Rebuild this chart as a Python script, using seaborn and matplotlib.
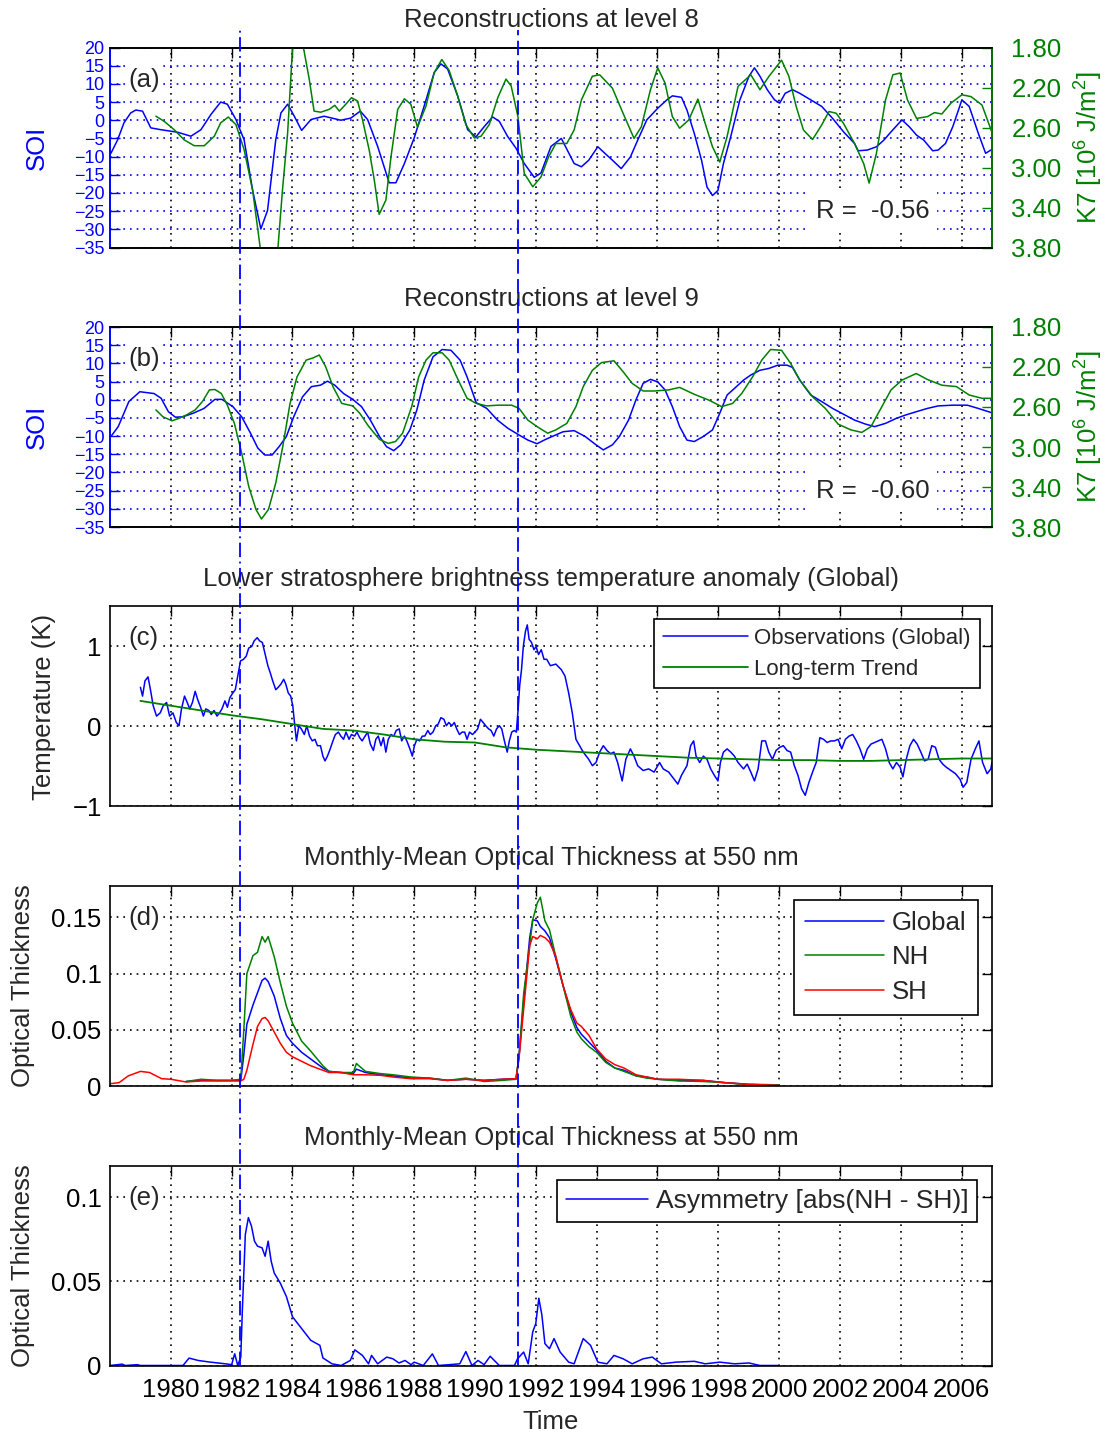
import numpy as np
import matplotlib
matplotlib.use("Agg")
import matplotlib.pyplot as plt
import matplotlib.transforms as mtransforms
from matplotlib.lines import Line2D
from matplotlib.ticker import FormatStrFormatter
import seaborn as sns

# ---------------------------------------------------------------- data
x_ticks = list(range(1980, 2007, 2))
eruption_years = [1982.26, 1991.40]          # El Chichon, Pinatubo
eruption_styles = [(0, (8, 2.5, 1, 2.5)), (0, (8, 3))]

# (a) level-8 reconstructions
soi8_years = [1978.03, 1978.25, 1978.46, 1978.68, 1978.85, 1979.07, 1979.34, 1979.67, 1980.22, 1980.66,
              1980.99, 1981.32, 1981.64, 1981.86, 1982.14, 1982.41, 1982.69, 1982.96, 1983.18, 1983.45,
              1983.62, 1983.84, 1984.06, 1984.30, 1984.61, 1985.04, 1985.59, 1985.92, 1986.23, 1986.47,
              1986.80, 1987.18, 1987.40, 1987.68, 1988.00, 1988.33, 1988.66, 1988.88, 1989.10, 1989.43,
              1989.76, 1990.03, 1990.31, 1990.58, 1990.80, 1991.07, 1991.35, 1991.62, 1991.95, 1992.17,
              1992.50, 1992.84, 1993.26, 1993.50, 1993.74, 1994.04, 1994.22, 1994.52, 1994.81, 1995.11,
              1995.35, 1995.65, 1996.01, 1996.31, 1996.49, 1996.79, 1996.97, 1997.21, 1997.45, 1997.63,
              1997.81, 1997.99, 1998.17, 1998.41, 1998.71, 1999.01, 1999.19, 1999.37, 1999.61, 1999.85,
              2000.02, 2000.20, 2000.44, 2000.68, 2001.04, 2001.40, 2001.76, 2002.12, 2002.48, 2002.60,
              2002.90, 2003.20, 2003.44, 2003.68, 2004.04, 2004.28, 2004.52, 2004.76, 2005.05, 2005.23,
              2005.47, 2005.71, 2006.01, 2006.25, 2006.55, 2006.79, 2007.00]
soi8 = [-9.1, -5.4, -0.7, 2.0, 2.8, 2.5, -2.1, -2.6, -3.3, -4.4,
        -2.6, 1.6, 5.0, 4.4, 0.2, -5.4, -19.3, -29.9, -24.8, -5.4,
        2.0, 4.4, 1.1, -2.8, 0.2, 1.1, 0.0, 0.6, 2.5, 0.2,
        -7.2, -17.2, -17.2, -11.9, -4.9, 3.9, 13.1, 15.5, 14.1, 6.7,
        -2.6, -4.6, -1.7, 0.9, -0.3, -4.4, -7.7, -11.9, -15.7, -14.5,
        -7.2, -5.0, -11.9, -12.8, -11.0, -7.3, -8.7, -11.0, -13.3, -10.1,
        -5.5, 0.1, 3.3, 5.6, 6.7, 6.3, 2.8, -3.6, -11.0, -18.4,
        -20.7, -19.3, -11.9, -4.5, 5.6, 12.1, 14.4, 12.1, 8.4, 5.6,
        4.7, 7.4, 8.4, 7.4, 5.6, 3.8, 0.5, -3.2, -6.4, -8.4,
        -8.2, -7.3, -5.5, -3.2, 0.1, -1.8, -4.1, -5.5, -8.4, -8.2,
        -6.4, -1.8, 5.6, 3.8, -3.6, -9.1, -8.0]

k7_8_years = [1979.51, 1979.78, 1980.11, 1980.44, 1980.77, 1981.10, 1981.43, 1981.64, 1981.89, 1982.14,
              1982.41, 1982.69, 1982.96, 1983.20, 1983.51, 1983.67, 1983.84, 1984.00, 1984.18, 1984.36,
              1984.55, 1984.71, 1984.93, 1985.21, 1985.39, 1985.54, 1985.70, 1985.94, 1986.14, 1986.30,
              1986.52, 1986.69, 1986.85, 1987.07, 1987.24, 1987.46, 1987.68, 1987.89, 1988.11, 1988.39,
              1988.66, 1988.91, 1989.15, 1989.43, 1989.70, 1989.98, 1990.20, 1990.47, 1990.75, 1991.02,
              1991.19, 1991.41, 1991.62, 1991.90, 1992.17, 1992.42, 1992.66, 1993.02, 1993.26, 1993.50,
              1993.86, 1994.10, 1994.52, 1994.87, 1995.23, 1995.47, 1995.77, 1996.01, 1996.25, 1996.49,
              1996.73, 1997.03, 1997.33, 1997.57, 1997.81, 1998.05, 1998.29, 1998.65, 1999.07, 1999.37,
              1999.67, 2000.08, 2000.32, 2000.56, 2000.80, 2001.10, 2001.40, 2001.64, 2001.88, 2002.12,
              2002.48, 2002.78, 2002.96, 2003.20, 2003.50, 2003.74, 2003.98, 2004.22, 2004.52, 2004.88,
              2005.11, 2005.35, 2005.65, 2006.01, 2006.31, 2006.67, 2007.00]
k7_8 = [2.487, 2.538, 2.622, 2.724, 2.782, 2.782, 2.687, 2.553, 2.495, 2.571,
        2.822, 3.229, 3.850, 4.100, 3.850, 3.229, 2.655, 1.815, 1.700, 1.800,
        2.116, 2.436, 2.447, 2.418, 2.378, 2.436, 2.385, 2.302, 2.335, 2.520,
        2.822, 3.127, 3.469, 3.327, 2.891, 2.418, 2.313, 2.367, 2.596, 2.385,
        2.051, 1.920, 2.029, 2.284, 2.571, 2.705, 2.687, 2.571, 2.302, 2.116,
        2.185, 2.487, 3.058, 3.193, 3.095, 2.894, 2.760, 2.760, 2.625, 2.324,
        2.087, 2.073, 2.207, 2.458, 2.709, 2.593, 2.222, 2.004, 2.156, 2.491,
        2.607, 2.524, 2.316, 2.560, 2.793, 2.945, 2.691, 2.189, 2.073, 2.222,
        2.087, 1.927, 2.087, 2.389, 2.625, 2.720, 2.575, 2.440, 2.458, 2.560,
        2.760, 2.960, 3.156, 2.858, 2.324, 2.073, 2.055, 2.324, 2.509, 2.491,
        2.451, 2.465, 2.356, 2.273, 2.291, 2.375, 2.650]

# (b) level-9 reconstructions
soi9_years = [1978.04, 1978.27, 1978.62, 1978.98, 1979.45, 1979.68, 1979.92, 1980.15, 1980.39, 1980.74,
              1981.09, 1981.45, 1981.68, 1982.04, 1982.33, 1982.62, 1982.86, 1983.09, 1983.33, 1983.56,
              1983.80, 1984.04, 1984.33, 1984.62, 1984.92, 1985.15, 1985.39, 1985.68, 1985.98, 1986.27,
              1986.56, 1986.86, 1987.09, 1987.33, 1987.56, 1987.86, 1988.09, 1988.33, 1988.62, 1988.92,
              1989.21, 1989.51, 1989.74, 1990.04, 1990.39, 1990.74, 1991.09, 1991.45, 1991.74, 1992.04,
              1992.30, 1992.54, 1992.90, 1993.26, 1993.62, 1993.98, 1994.22, 1994.52, 1994.75, 1995.05,
              1995.29, 1995.53, 1995.77, 1996.01, 1996.25, 1996.49, 1996.73, 1996.97, 1997.21, 1997.51,
              1997.81, 1998.05, 1998.29, 1998.53, 1998.83, 1999.07, 1999.37, 1999.66, 1999.96, 2000.26,
              2000.44, 2000.68, 2001.04, 2001.40, 2001.76, 2002.12, 2002.48, 2002.84, 2003.14, 2003.50,
              2003.86, 2004.16, 2004.51, 2004.87, 2005.23, 2005.71, 2006.19, 2006.55, 2007.00]
soi9 = [-10.0, -7.4, -0.5, 2.2, 1.7, 0.4, -3.3, -4.8, -4.7, -3.7,
        -2.4, 0.1, 0.1, -1.9, -4.7, -9.2, -13.3, -15.2, -15.2, -12.9,
        -10.1, -4.7, 0.8, 3.6, 4.0, 5.1, 4.0, 1.7, 0.1, -1.9,
        -5.6, -10.1, -12.9, -14.0, -12.4, -8.3, -2.8, 5.4, 11.8, 13.8,
        13.6, 10.9, 6.3, -0.8, -2.4, -5.6, -7.9, -9.7, -11.1, -12.1,
        -11.0, -10.1, -8.8, -8.5, -10.1, -12.4, -13.8, -12.4, -10.1, -5.6,
        -0.1, 4.5, 5.6, 4.9, 2.7, -1.9, -7.4, -11.1, -11.5, -10.1,
        -8.3, -3.7, 1.3, 3.1, 5.4, 6.8, 8.1, 8.6, 9.5, 9.5,
        8.9, 5.4, 1.3, -0.5, -2.4, -4.0, -5.6, -6.7, -7.4, -6.5,
        -5.1, -4.2, -3.3, -2.4, -1.7, -1.5, -1.5, -2.4, -3.6]

k7_9_years = [1979.51, 1979.74, 1980.04, 1980.27, 1980.51, 1980.80, 1981.04, 1981.27, 1981.45, 1981.66,
              1981.86, 1982.09, 1982.33, 1982.56, 1982.80, 1982.98, 1983.21, 1983.45, 1983.68, 1983.92,
              1984.15, 1984.45, 1984.68, 1984.88, 1985.09, 1985.33, 1985.62, 1985.98, 1986.21, 1986.51,
              1986.86, 1987.15, 1987.39, 1987.62, 1987.92, 1988.15, 1988.39, 1988.62, 1988.92, 1989.15,
              1989.45, 1989.74, 1990.04, 1990.39, 1990.74, 1991.21, 1991.45, 1991.74, 1992.04, 1992.39,
              1992.66, 1993.02, 1993.32, 1993.56, 1993.86, 1994.16, 1994.57, 1994.87, 1995.17, 1995.53,
              1995.89, 1996.37, 1996.73, 1997.21, 1997.69, 1998.11, 1998.47, 1998.77, 1999.13, 1999.43,
              1999.72, 2000.08, 2000.38, 2000.68, 2001.10, 2001.52, 2001.94, 2002.36, 2002.72, 2003.02,
              2003.32, 2003.68, 2004.04, 2004.51, 2004.87, 2005.35, 2005.83, 2006.25, 2006.67, 2007.00]
k7_9 = [2.629, 2.698, 2.738, 2.713, 2.680, 2.629, 2.545, 2.429, 2.425, 2.465,
        2.582, 2.764, 3.062, 3.393, 3.625, 3.720, 3.625, 3.360, 2.996, 2.564,
        2.298, 2.131, 2.109, 2.080, 2.196, 2.396, 2.564, 2.589, 2.662, 2.796,
        2.924, 2.964, 2.945, 2.862, 2.596, 2.298, 2.131, 2.058, 2.058, 2.131,
        2.331, 2.513, 2.564, 2.589, 2.582, 2.582, 2.614, 2.731, 2.796, 2.862,
        2.829, 2.764, 2.596, 2.396, 2.233, 2.156, 2.138, 2.247, 2.364, 2.440,
        2.440, 2.429, 2.404, 2.473, 2.531, 2.596, 2.564, 2.465, 2.298, 2.131,
        2.025, 2.033, 2.164, 2.331, 2.498, 2.614, 2.771, 2.829, 2.854, 2.796,
        2.629, 2.429, 2.331, 2.265, 2.324, 2.382, 2.396, 2.480, 2.513, 2.513]

# (c) lower stratosphere brightness temperature anomaly (K)
tls_years = [1979.00, 1979.07, 1979.15, 1979.25, 1979.33, 1979.42, 1979.53, 1979.65, 1979.75, 1979.86,
             1979.96, 1980.07, 1980.18, 1980.27, 1980.35, 1980.45, 1980.54, 1980.62, 1980.71, 1980.80,
             1980.88, 1980.98, 1981.07, 1981.15, 1981.25, 1981.33, 1981.42, 1981.52, 1981.60, 1981.68,
             1981.78, 1981.86, 1981.94, 1982.04, 1982.12, 1982.21, 1982.29, 1982.39, 1982.48, 1982.56,
             1982.66, 1982.74, 1982.84, 1982.92, 1983.01, 1983.09, 1983.19, 1983.27, 1983.35, 1983.45,
             1983.53, 1983.62, 1983.71, 1983.78, 1983.86, 1983.94, 1984.01, 1984.07, 1984.13, 1984.21,
             1984.29, 1984.39, 1984.47, 1984.56, 1984.65, 1984.74, 1984.82, 1984.92, 1985.00, 1985.07,
             1985.15, 1985.24, 1985.33, 1985.41, 1985.51, 1985.59, 1985.68, 1985.76, 1985.86, 1985.94,
             1986.04, 1986.12, 1986.21, 1986.29, 1986.39, 1986.47, 1986.56, 1986.66, 1986.74, 1986.82,
             1986.91, 1986.99, 1987.07, 1987.15, 1987.24, 1987.33, 1987.41, 1987.51, 1987.59, 1987.68,
             1987.76, 1987.86, 1987.94, 1988.01, 1988.09, 1988.18, 1988.27, 1988.35, 1988.45, 1988.53,
             1988.62, 1988.71, 1988.79, 1988.88, 1988.98, 1989.06, 1989.14, 1989.24, 1989.32, 1989.40,
             1989.49, 1989.58, 1989.66, 1989.74, 1989.82, 1989.92, 1990.00, 1990.09, 1990.18, 1990.27,
             1990.35, 1990.45, 1990.53, 1990.62, 1990.71, 1990.80, 1990.88, 1990.98, 1991.06, 1991.13,
             1991.21, 1991.29, 1991.36, 1991.42, 1991.47, 1991.53, 1991.59, 1991.66, 1991.72, 1991.78,
             1991.86, 1991.94, 1992.01, 1992.09, 1992.18, 1992.27, 1992.36, 1992.48, 1992.66, 1992.84,
             1992.96, 1993.08, 1993.20, 1993.32, 1993.44, 1993.56, 1993.74, 1993.86, 1993.98, 1994.10,
             1994.22, 1994.34, 1994.46, 1994.57, 1994.69, 1994.84, 1994.96, 1995.11, 1995.23, 1995.35,
             1995.53, 1995.71, 1995.89, 1996.07, 1996.19, 1996.37, 1996.55, 1996.67, 1996.79, 1996.97,
             1997.09, 1997.19, 1997.27, 1997.39, 1997.51, 1997.63, 1997.75, 1997.87, 1997.99, 1998.07,
             1998.17, 1998.29, 1998.41, 1998.53, 1998.65, 1998.83, 1998.95, 1999.07, 1999.19, 1999.31,
             1999.43, 1999.55, 1999.66, 1999.78, 1999.90, 2000.02, 2000.14, 2000.26, 2000.38, 2000.50,
             2000.62, 2000.74, 2000.86, 2000.98, 2001.10, 2001.22, 2001.34, 2001.46, 2001.58, 2001.70,
             2001.82, 2001.94, 2002.06, 2002.18, 2002.30, 2002.42, 2002.54, 2002.66, 2002.78, 2002.90,
             2003.02, 2003.14, 2003.26, 2003.38, 2003.50, 2003.62, 2003.74, 2003.86, 2003.98, 2004.07,
             2004.18, 2004.30, 2004.42, 2004.54, 2004.66, 2004.78, 2004.90, 2005.02, 2005.14, 2005.26,
             2005.38, 2005.50, 2005.65, 2005.80, 2005.95, 2006.05, 2006.17, 2006.31, 2006.45, 2006.57,
             2006.69, 2006.84, 2006.96, 2007.00]
tls_obs = [0.49, 0.38, 0.57, 0.62, 0.46, 0.26, 0.13, 0.17, 0.26, 0.30,
           0.13, 0.17, 0.05, 0.01, 0.22, 0.38, 0.30, 0.22, 0.30, 0.44,
           0.34, 0.24, 0.13, 0.22, 0.20, 0.15, 0.20, 0.13, 0.17, 0.22,
           0.32, 0.24, 0.36, 0.42, 0.46, 0.65, 0.82, 0.84, 0.88, 0.98,
           1.00, 1.07, 1.11, 1.07, 1.05, 0.92, 0.76, 0.67, 0.57, 0.46,
           0.49, 0.53, 0.59, 0.53, 0.42, 0.38, 0.26, 0.03, -0.18, 0.01,
           -0.03, -0.10, 0.01, -0.12, -0.18, -0.16, -0.24, -0.24, -0.37, -0.43,
           -0.37, -0.28, -0.18, -0.10, -0.07, -0.12, -0.16, -0.07, -0.16, -0.10,
           -0.12, -0.07, -0.14, -0.18, -0.12, -0.07, -0.22, -0.30, -0.16, -0.12,
           -0.24, -0.14, -0.32, -0.16, -0.10, -0.12, -0.05, -0.03, -0.18, -0.12,
           -0.18, -0.28, -0.37, -0.24, -0.16, -0.18, -0.12, -0.12, -0.05, -0.10,
           -0.07, 0.01, 0.03, 0.11, 0.09, 0.01, 0.05, 0.01, 0.05, -0.03,
           -0.10, -0.07, -0.07, -0.16, -0.07, -0.10, -0.07, -0.03, 0.09, 0.05,
           0.01, -0.03, -0.05, -0.12, -0.03, 0.01, -0.03, -0.20, -0.32, -0.18,
           -0.07, -0.05, -0.07, 0.22, 0.51, 0.71, 1.00, 1.19, 1.27, 1.09,
           1.05, 0.96, 1.00, 0.90, 0.96, 0.84, 0.84, 0.76, 0.78, 0.71,
           0.63, 0.42, 0.17, -0.16, -0.24, -0.32, -0.41, -0.49, -0.45, -0.32,
           -0.24, -0.30, -0.34, -0.32, -0.45, -0.68, -0.41, -0.28, -0.37, -0.49,
           -0.55, -0.53, -0.57, -0.45, -0.53, -0.57, -0.66, -0.72, -0.61, -0.49,
           -0.24, -0.18, -0.37, -0.45, -0.37, -0.41, -0.53, -0.61, -0.68, -0.45,
           -0.32, -0.28, -0.32, -0.37, -0.45, -0.53, -0.47, -0.57, -0.68, -0.53,
           -0.18, -0.18, -0.32, -0.41, -0.30, -0.26, -0.24, -0.30, -0.32, -0.49,
           -0.61, -0.78, -0.86, -0.70, -0.57, -0.45, -0.14, -0.16, -0.20, -0.18,
           -0.18, -0.16, -0.28, -0.16, -0.12, -0.10, -0.18, -0.28, -0.41, -0.28,
           -0.22, -0.20, -0.18, -0.16, -0.28, -0.45, -0.53, -0.45, -0.51, -0.63,
           -0.41, -0.24, -0.16, -0.22, -0.32, -0.43, -0.41, -0.24, -0.26, -0.41,
           -0.47, -0.51, -0.55, -0.59, -0.66, -0.76, -0.70, -0.41, -0.28, -0.18,
           -0.45, -0.59, -0.53, -0.45]

trend_years = list(range(1979, 2008))
tls_trend = [0.32, 0.26, 0.20, 0.14, 0.09, 0.03, -0.03, -0.05, -0.10, -0.16,
             -0.19, -0.20, -0.26, -0.29, -0.31, -0.33, -0.35, -0.37, -0.39, -0.40,
             -0.41, -0.42, -0.42, -0.43, -0.43, -0.42, -0.41, -0.40, -0.40]

# (d) monthly-mean optical thickness at 550 nm
aod_years = [1978.0, 1978.3, 1978.6, 1979.0, 1979.3, 1979.7, 1980.0, 1980.5, 1981.0, 1981.5,
             1982.0, 1982.3, 1982.4, 1982.5, 1982.7, 1982.85, 1983.0, 1983.1, 1983.2, 1983.4,
             1983.6, 1983.8, 1984.0, 1984.3, 1984.6, 1985.0, 1985.2, 1985.6, 1986.0, 1986.1,
             1986.4, 1986.9, 1987.3, 1987.9, 1988.5, 1989.1, 1989.7, 1990.3, 1990.9, 1991.35,
             1991.45, 1991.6, 1991.8, 1991.9, 1992.05, 1992.15, 1992.3, 1992.45, 1992.65, 1992.9,
             1993.15, 1993.35, 1993.5, 1993.75, 1994.0, 1994.3, 1994.6, 1994.9, 1995.3, 1995.65,
             1996.0, 1996.7, 1997.5, 1998.2, 1999.0, 2000.0]
nan = np.nan
aod_global = [nan, nan, nan, nan, nan, nan, nan, 0.004, 0.005, 0.005,
              0.005, 0.005, 0.028, 0.055, 0.072, 0.083, 0.094, 0.096, 0.093, 0.080,
              0.060, 0.045, 0.038, 0.030, 0.024, 0.016, 0.013, 0.012, 0.011, 0.015,
              0.012, 0.010, 0.009, 0.007, 0.007, 0.005, 0.006, 0.005, 0.006, 0.0065,
              0.027, 0.075, 0.132, 0.148, 0.147, 0.142, 0.138, 0.132, 0.114, 0.089,
              0.066, 0.052, 0.046, 0.039, 0.032, 0.022, 0.016, 0.014, 0.009, 0.008,
              0.006, 0.005, 0.005, 0.003, 0.0015, 0.001]
aod_nh = [nan, nan, nan, nan, nan, nan, nan, 0.004, 0.006, 0.005,
          0.005, 0.006, 0.050, 0.100, 0.116, 0.119, 0.133, 0.128, 0.133, 0.115,
          0.092, 0.071, 0.056, 0.040, 0.031, 0.018, 0.013, 0.012, 0.012, 0.020,
          0.013, 0.011, 0.010, 0.008, 0.007, 0.005, 0.007, 0.004, 0.005, 0.006,
          0.027, 0.082, 0.125, 0.148, 0.163, 0.168, 0.147, 0.139, 0.116, 0.089,
          0.062, 0.048, 0.042, 0.035, 0.030, 0.021, 0.016, 0.013, 0.009, 0.007,
          0.006, 0.0045, 0.004, 0.003, 0.001, 0.001]
aod_sh = [0.002, 0.003, 0.009, 0.013, 0.012, 0.0065, 0.006, 0.0036, 0.0045, 0.0045,
          0.0045, 0.0045, 0.006, 0.014, 0.037, 0.053, 0.060, 0.061, 0.058, 0.048,
          0.038, 0.030, 0.026, 0.022, 0.018, 0.014, 0.012, 0.012, 0.010, 0.010,
          0.010, 0.0095, 0.008, 0.0065, 0.0065, 0.005, 0.006, 0.005, 0.006, 0.0065,
          0.025, 0.068, 0.125, 0.133, 0.131, 0.134, 0.132, 0.128, 0.116, 0.089,
          0.068, 0.056, 0.053, 0.045, 0.033, 0.024, 0.019, 0.016, 0.010, 0.008,
          0.006, 0.006, 0.005, 0.003, 0.0015, 0.0005]

# (e) hemispheric asymmetry |NH - SH|
asym_years = [1978.0, 1978.4, 1978.5, 1978.9, 1979.0, 1980.4, 1980.6, 1980.9, 1981.3, 1981.8,
              1982.0, 1982.1, 1982.2, 1982.3, 1982.35, 1982.4, 1982.45, 1982.55, 1982.65, 1982.75,
              1982.85, 1983.0, 1983.1, 1983.2, 1983.3, 1983.4, 1983.6, 1983.8, 1984.0, 1984.3,
              1984.6, 1984.9, 1985.0, 1985.3, 1985.6, 1985.9, 1986.05, 1986.3, 1986.5, 1986.6,
              1986.8, 1987.1, 1987.3, 1987.5, 1987.7, 1987.9, 1988.0, 1988.3, 1988.6, 1988.8,
              1989.5, 1989.7, 1989.9, 1990.1, 1990.3, 1990.5, 1990.8, 1991.3, 1991.4, 1991.6,
              1991.75, 1991.9, 1992.0, 1992.1, 1992.2, 1992.3, 1992.45, 1992.6, 1992.8, 1993.08,
              1993.26, 1993.56, 1993.80, 1994.04, 1994.34, 1994.57, 1994.87, 1995.17, 1995.53, 1995.83,
              1996.13, 1996.61, 1997.21, 1997.57, 1998.05, 1998.53, 1999.01, 1999.37, 1999.96]
asym = [0.0, 0.0008, 0.0, 0.0005, 0.0, 0.0, 0.0044, 0.003, 0.002, 0.001,
        0.0005, 0.007, 0.0, 0.005, 0.032, 0.055, 0.078, 0.088, 0.083, 0.074,
        0.071, 0.070, 0.065, 0.074, 0.062, 0.055, 0.049, 0.041, 0.029, 0.022,
        0.015, 0.012, 0.0045, 0.001, 0.0, 0.003, 0.0093, 0.006, 0.001, 0.006,
        0.001, 0.005, 0.004, 0.0015, 0.003, 0.0005, 0.002, 0.0, 0.0069, 0.0,
        0.001, 0.0083, 0.0, 0.003, 0.0005, 0.0055, 0.0, 0.0, 0.004, 0.008,
        0.001, 0.020, 0.025, 0.040, 0.030, 0.013, 0.010, 0.016, 0.008, 0.002,
        0.001, 0.016, 0.012, 0.002, 0.001, 0.006, 0.004, 0.001, 0.004, 0.005,
        0.001, 0.002, 0.0025, 0.001, 0.002, 0.001, 0.0015, 0.0, 0.0]

# ---------------------------------------------------------------- style
sns.set_theme(style="white")
plt.rcParams["font.family"] = ["Liberation Sans", "DejaVu Sans"]
plt.rcParams["mathtext.fontset"] = "custom"
plt.rcParams["mathtext.rm"] = "Liberation Sans"
plt.rcParams["mathtext.it"] = "Liberation Sans"
FS = 18.5
SOI_FS = 13
BLUE, GREEN, RED = "#0000FF", "#008000", "#FF0000"
DOTS = (0, (1, 3))


def matlab_axes(ax, hgrid_color="black"):
    """Box, inward ticks and dotted grid in the old MATLAB look."""
    ax.set_xlim(1978, 2007)
    ax.set_xticks(x_ticks)
    ax.tick_params(direction="in", top=True, right=True, length=7, width=1,
                   labelsize=FS, colors="black", pad=6)
    ax.tick_params(axis="x", pad=9)
    for sp in ax.spines.values():
        sp.set_color("black")
        sp.set_linewidth(1.2)
    ax.xaxis.grid(True, color="black", linestyle=DOTS, linewidth=1.2)
    ax.yaxis.grid(True, color=hgrid_color, linestyle=DOTS, linewidth=1.2)
    ax.set_xlabel("")


def panel_tag(ax, tag):
    ax.text(0.021, 0.84, tag, transform=ax.transAxes, fontsize=FS, ha="left",
            va="center", zorder=10,
            bbox=dict(facecolor="white", edgecolor="none", pad=2))


def recon_panel(ax, title, yrs_soi, soi, yrs_k7, k7, r_text, tag):
    matlab_axes(ax, hgrid_color=BLUE)
    sns.lineplot(x=yrs_soi, y=soi, ax=ax, color=BLUE, linewidth=1.1, legend=False)
    ax.set_ylim(-35, 20)
    ax.set_yticks(list(range(-35, 21, 5)))
    ax.tick_params(axis="y", colors=BLUE, labelcolor=BLUE, labelsize=SOI_FS, pad=4)
    ax.spines["left"].set_color(BLUE)
    ax.set_ylabel("SOI", color=BLUE, fontsize=FS, labelpad=18)
    ax.set_title(title, fontsize=FS, pad=15)

    ax2 = ax.twinx()
    sns.lineplot(x=yrs_k7, y=k7, ax=ax2, color=GREEN, linewidth=1.1, legend=False)
    ax2.set_ylim(3.80, 1.80)
    ax2.set_yticks([1.80, 2.20, 2.60, 3.00, 3.40, 3.80])
    ax2.yaxis.set_major_formatter(FormatStrFormatter("%.2f"))
    ax2.tick_params(axis="y", direction="in", length=7, width=1, colors=GREEN,
                    labelcolor=GREEN, labelsize=FS, pad=14)
    ax2.grid(False)
    for sp in ["top", "bottom"]:
        ax2.spines[sp].set_color("black")
    ax2.spines["left"].set_color(BLUE)
    ax2.spines["right"].set_color(GREEN)
    for sp in ax2.spines.values():
        sp.set_linewidth(1.2)
    ax2.set_ylabel(r"K7 [10$^{6}$ J/m$^{2}$]", color=GREEN, fontsize=FS, labelpad=8)
    ax2.set_xlim(1978, 2007)
    ax2.text(0.80, 0.18, r_text, transform=ax2.transAxes, fontsize=FS, ha="left",
             va="center", bbox=dict(facecolor="white", edgecolor="none", pad=6))
    panel_tag(ax2, tag)
    ax.tick_params(labelbottom=False)


# ---------------------------------------------------------------- figure
fig = plt.figure(figsize=(11.09, 14.36), dpi=100)
left, width, height = 110 / 1109, 882 / 1109, 200 / 1436
tops = [47.5, 327, 606.5, 886, 1165.5]
axes = [fig.add_axes([left, 1 - (t + 200) / 1436, width, height]) for t in tops]
ax_a, ax_b, ax_c, ax_d, ax_e = axes

recon_panel(ax_a, "Reconstructions at level 8", soi8_years, soi8, k7_8_years, k7_8,
            "R =  -0.56", "(a)")
recon_panel(ax_b, "Reconstructions at level 9", soi9_years, soi9, k7_9_years, k7_9,
            "R =  -0.60", "(b)")

# (c)
matlab_axes(ax_c)
sns.lineplot(x=tls_years, y=tls_obs, ax=ax_c, color=BLUE, linewidth=1.1,
             label="Observations (Global)")
sns.lineplot(x=trend_years, y=tls_trend, ax=ax_c, color=GREEN, linewidth=1.3,
             label="Long-term Trend")
ax_c.set_ylim(-1, 1.5)
ax_c.set_yticks([-1, 0, 1])
ax_c.set_ylabel("Temperature (K)", fontsize=FS, labelpad=12)
ax_c.set_title("Lower stratosphere brightness temperature anomaly (Global)", fontsize=FS, pad=15)
ax_c.tick_params(labelbottom=False)
panel_tag(ax_c, "(c)")

# (d)
matlab_axes(ax_d)
sns.lineplot(x=aod_years, y=aod_global, ax=ax_d, color=BLUE, linewidth=1.1, label="Global")
sns.lineplot(x=aod_years, y=aod_nh, ax=ax_d, color=GREEN, linewidth=1.1, label="NH")
sns.lineplot(x=aod_years, y=aod_sh, ax=ax_d, color=RED, linewidth=1.1, label="SH")
ax_d.set_ylim(0, 0.178)
ax_d.set_yticks([0, 0.05, 0.1, 0.15])
ax_d.set_yticklabels(["0", "0.05", "0.1", "0.15"])
ax_d.set_ylabel("Optical Thickness", fontsize=FS, labelpad=12)
ax_d.set_title("Monthly-Mean Optical Thickness at 550 nm", fontsize=FS, pad=15)
ax_d.tick_params(labelbottom=False)
panel_tag(ax_d, "(d)")

# (e)
matlab_axes(ax_e)
sns.lineplot(x=asym_years, y=asym, ax=ax_e, color=BLUE, linewidth=1.1,
             label="Asymmetry [abs(NH - SH)]")
ax_e.set_ylim(0, 0.119)
ax_e.set_yticks([0, 0.05, 0.1])
ax_e.set_yticklabels(["0", "0.05", "0.1"])
ax_e.set_ylabel("Optical Thickness", fontsize=FS, labelpad=12)
ax_e.set_xlabel("Time", fontsize=FS, labelpad=6)
ax_e.set_title("Monthly-Mean Optical Thickness at 550 nm", fontsize=FS, pad=15)
panel_tag(ax_e, "(e)")

# legend font, row spacing, border padding, handle length per panel
for ax, lfs, spacing, bpad, hlen in [(ax_c, 16, 0.45, 0.4, 3.8),
                                     (ax_d, 18.5, 0.4, 0.43, 3.1),
                                     (ax_e, 19, 0.35, 0.34, 3.1)]:
    leg = ax.legend(loc="upper right", fontsize=lfs, handlelength=hlen, frameon=True,
                    fancybox=False, framealpha=1, edgecolor="black", borderpad=bpad,
                    borderaxespad=0.55, labelspacing=spacing, handletextpad=0.3)
    leg.get_frame().set_linewidth(1.2)

# eruption markers running through all panels
trans = mtransforms.blended_transform_factory(ax_e.transData, fig.transFigure)
y_bot = 1 - (tops[-1] + 200) / 1436
y_top = 1 - 30 / 1436
for yr, ls in zip(eruption_years, eruption_styles):
    fig.add_artist(Line2D([yr, yr], [y_bot, y_top], transform=trans, color=BLUE,
                          linestyle=ls, linewidth=1.3, zorder=20))

fig.savefig("out.png", dpi=100)
